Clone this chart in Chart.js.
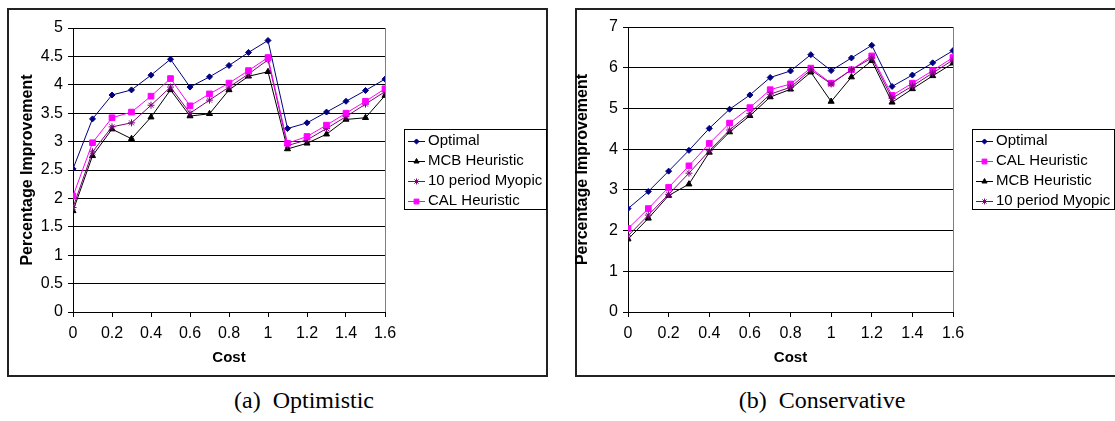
<!DOCTYPE html>
<html>
<head>
<meta charset="utf-8">
<script src="https://cdn.jsdelivr.net/npm/chart.js"></script>
<style>
  html, body { margin: 0; padding: 0; background: #fff; }
  body { width: 1115px; height: 421px; position: relative; overflow: hidden; }
  .frame { position: absolute; border: 2px solid #222; box-sizing: border-box; }
  .plot { position: absolute; top: 0; height: 380px; }
  .caption { position: absolute; top: 387px; font-family: 'Liberation Serif', 'Times New Roman', serif; font-size: 24px; white-space: pre; transform: translateX(-50%); color: #000; }
</style>
</head>
<body>
<div class="frame" style="left:7px; top:8px; width:541px; height:369px;"></div>
<div class="frame" style="left:575px; top:8px; width:560px; height:369px;"></div>
<div class="plot" style="left:0; width:560px;"><canvas id="chartA"></canvas></div>
<div class="plot" style="left:560px; width:555px;"><canvas id="chartB"></canvas></div>
<div class="caption" style="left:304px;">(a)  Optimistic</div>
<div class="caption" style="left:822px;">(b)  Conservative</div>

<script>
// ============================================
// DATA
// ============================================
const costs = [0, 0.1, 0.2, 0.3, 0.4, 0.5, 0.6, 0.7, 0.8, 0.9, 1.0, 1.1, 1.2, 1.3, 1.4, 1.5, 1.6]
const xTickLabels = ['0', '0.2', '0.4', '0.6', '0.8', '1', '1.2', '1.4', '1.6']

// (a) Optimistic
const optA    = [2.52, 3.40, 3.82, 3.91, 4.17, 4.45, 3.96, 4.14, 4.34, 4.57, 4.78, 3.23, 3.33, 3.52, 3.71, 3.90, 4.10]
const mcbA    = [1.78, 2.75, 3.22, 3.05, 3.43, 3.91, 3.45, 3.49, 3.91, 4.15, 4.23, 2.87, 2.97, 3.13, 3.39, 3.42, 3.81]
const myopicA = [1.84, 2.82, 3.26, 3.33, 3.64, 3.96, 3.50, 3.73, 3.96, 4.19, 4.44, 2.93, 3.03, 3.23, 3.44, 3.66, 3.88]
const calA    = [2.04, 2.98, 3.42, 3.52, 3.80, 4.11, 3.63, 3.84, 4.03, 4.25, 4.48, 2.97, 3.09, 3.29, 3.50, 3.71, 3.93]
const yTickLabelsA = ['0', '0.5', '1', '1.5', '2', '2.5', '3', '3.5', '4', '4.5', '5']

// (b) Conservative
const optB    = [2.54, 2.96, 3.46, 3.97, 4.51, 4.98, 5.33, 5.76, 5.92, 6.32, 5.93, 6.24, 6.55, 5.54, 5.82, 6.12, 6.42]
const calB    = [2.05, 2.54, 3.06, 3.59, 4.14, 4.64, 5.02, 5.46, 5.60, 5.99, 5.62, 5.95, 6.29, 5.32, 5.62, 5.93, 6.25]
const mcbB    = [1.79, 2.30, 2.86, 3.14, 3.92, 4.42, 4.82, 5.28, 5.47, 5.89, 5.17, 5.77, 6.17, 5.15, 5.48, 5.80, 6.11]
const myopicB = [1.87, 2.38, 2.89, 3.41, 3.96, 4.47, 4.88, 5.35, 5.52, 5.95, 5.60, 5.95, 6.24, 5.25, 5.55, 5.87, 6.19]
const yTickLabelsB = ['0', '1', '2', '3', '4', '5', '6', '7']

// ============================================
// STYLES
// ============================================
Chart.defaults.font.family = "'Liberation Sans', Arial, sans-serif"
Chart.defaults.color = '#000'

const styles = {
    optimal: { color: '#000080', pointStyle: 'rectRot', pointRadius: 3 },
    mcb:     { color: '#000000', pointStyle: 'triangle', pointRadius: 3.5 },
    myopic:  { color: '#800080', pointStyle: 'star', pointRadius: 3.5 },
    cal:     { color: '#FF00FF', pointStyle: 'rect', pointRadius: 4 }
}

function series(label, values, style, order) {
    return {
        label,
        data: values.map((v, i) => ({ x: costs[i], y: v })),
        borderColor: style.color,
        backgroundColor: style.color,
        borderWidth: 1,
        pointStyle: style.pointStyle,
        pointRadius: style.pointRadius,
        pointBorderWidth: 1,
        pointBackgroundColor: style.color,
        pointBorderColor: style.color,
        tension: 0,
        order
    }
}

// gray plot-area frame like Excel
const plotFrame = {
    id: 'plotFrame',
    beforeDraw(chart) {
        const { ctx, chartArea: a } = chart
        ctx.save()
        ctx.strokeStyle = '#808080'
        ctx.lineWidth = 1
        ctx.strokeRect(Math.round(a.left) + 0.5, Math.round(a.top) + 0.5, Math.round(a.right - a.left), Math.round(a.bottom - a.top))
        ctx.restore()
    }
}

// boxed legend to the right of the plot
const boxLegend = {
    id: 'boxLegend',
    afterDraw(chart, args, opts) {
        const ctx = chart.ctx
        const { x, y, w, h } = opts
        ctx.save()
        ctx.strokeStyle = '#000'
        ctx.lineWidth = 1
        ctx.strokeRect(x + 0.5, y + 0.5, w, h)
        ctx.font = "15px 'Liberation Sans', Arial, sans-serif"
        ctx.textBaseline = 'middle'
        chart.data.datasets.forEach((ds, i) => {
            const cy = y + 11.5 + i * 20
            ctx.strokeStyle = ds.borderColor
            ctx.fillStyle = ds.backgroundColor
            ctx.beginPath()
            ctx.moveTo(x + 4, Math.round(cy) + 0.5)
            ctx.lineTo(x + 21, Math.round(cy) + 0.5)
            ctx.stroke()
            Chart.helpers.drawPoint(ctx, {
                pointStyle: ds.pointStyle,
                radius: ds.pointRadius * 0.85,
                rotation: 0,
                borderWidth: 1
            }, x + 12.5, Math.round(cy) + 0.5)
            ctx.fillStyle = '#000'
            ctx.fillText(ds.label, x + 24, cy)
        })
        ctx.restore()
    }
}

function makeChart(id, datasets, yMax, yStep, yLabels, cfg) {
    const ctx = document.getElementById(id).getContext('2d')
    return new Chart(ctx, {
        type: 'line',
        data: { datasets },
        plugins: [plotFrame, boxLegend],
        options: {
            responsive: true,
            maintainAspectRatio: false,
            animation: false,
            devicePixelRatio: 1,
            layout: { padding: { left: 10, top: cfg.top, right: cfg.right, bottom: 0 } },
            plugins: {
                legend: { display: false },
                tooltip: { enabled: false },
                boxLegend: cfg.legend
            },
            scales: {
                x: {
                    type: 'linear',
                    min: 0,
                    max: 1.6,
                    afterFit: (s) => { s.height = 68 },
                    ticks: {
                        stepSize: 0.2,
                        font: { size: 16 },
                        padding: 7,
                        maxRotation: 0,
                        callback: (v, i) => xTickLabels[i]
                    },
                    grid: { drawOnChartArea: false, drawTicks: true, tickLength: 5, color: '#000' },
                    border: { display: true, color: '#000', width: 1 },
                    title: { display: true, text: 'Cost', font: { size: 15, weight: 'bold' }, padding: { top: 0, bottom: 13 } }
                },
                y: {
                    min: 0,
                    max: yMax,
                    afterFit: (s) => { s.width = cfg.yWidth },
                    ticks: {
                        stepSize: yStep,
                        font: { size: 16 },
                        padding: 5,
                        callback: (v, i) => yLabels[i]
                    },
                    grid: { color: '#000', tickLength: 5, drawTicks: true },
                    border: { display: true, color: '#000', width: 1 },
                    title: { display: true, text: 'Percentage Improvement', font: { size: 16, weight: 'bold' }, padding: { top: cfg.titlePad, bottom: 0 } }
                }
            }
        }
    })
}

// ============================================
// INIT
// ============================================
function init() {
    makeChart('chartA', [
        series('Optimal', optA, styles.optimal, 3),
        series('MCB Heuristic', mcbA, styles.mcb, 2),
        series('10 period Myopic', myopicA, styles.myopic, 1),
        series('CAL Heuristic', calA, styles.cal, 0)
    ], 5, 0.5, yTickLabelsA, {
        top: 28, right: 175, yWidth: 63, titlePad: 8,
        legend: { x: 404, y: 129, w: 142, h: 80 }
    })

    makeChart('chartB', [
        series('Optimal', optB, styles.optimal, 3),
        series('CAL Heuristic', calB, styles.cal, 2),
        series('MCB Heuristic', mcbB, styles.mcb, 1),
        series('10 period Myopic', myopicB, styles.myopic, 0)
    ], 7, 1, yTickLabelsB, {
        top: 27, right: 162, yWidth: 58, titlePad: 3,
        legend: { x: 412, y: 129, w: 142, h: 80 }
    })
}

document.addEventListener('DOMContentLoaded', init)
</script>
</body>
</html>
